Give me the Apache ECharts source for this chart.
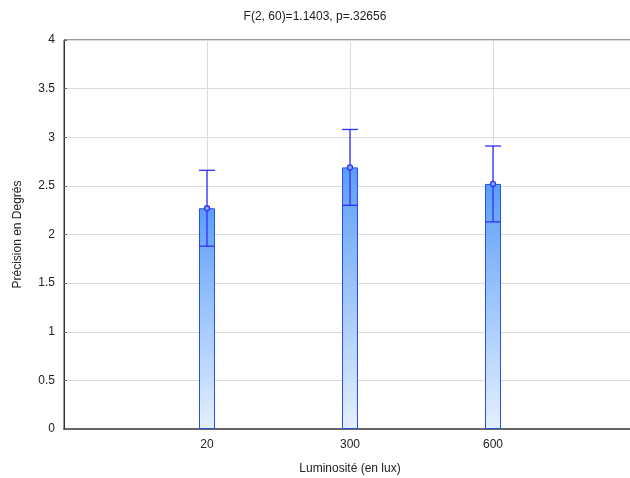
<!DOCTYPE html>
<html><head><meta charset="utf-8">
<script src="https://cdn.jsdelivr.net/npm/echarts@6/dist/echarts.min.js"></script>
<style>html,body{margin:0;padding:0;background:#fff}#c{width:630px;height:478px}</style>
</head><body><div id="c"></div>
<script>
var categories = ['', '20', '300', '600', ''];
var means = [null, 2.27, 2.69, 2.52, null];
var upper = [null, 2.66, 3.08, 2.91, null];
var lower = [null, 1.88, 2.30, 2.13, null];
var yTicks = [0, 0.5, 1, 1.5, 2, 2.5, 3, 3.5, 4];

var chart = echarts.init(document.getElementById('c'), null, {renderer: 'canvas'});
var errData = [];
for (var i = 0; i < categories.length; i++) {
  if (means[i] !== null) errData.push([i, lower[i], upper[i], means[i]]);
}
var barData = means.map(function (v) { return v; });
var font = 'Liberation Sans, Arial, sans-serif';
var option = {
  animation: false,
  title: {
    text: 'F(2, 60)=1.1403, p=.32656', left: 'center', top: 6,
    textStyle: {fontFamily: font, fontSize: 12, fontWeight: 'normal', color: '#222'}
  },
  grid: {left: 64, width: 572, top: 40, height: 389, show: true, borderColor: '#333', borderWidth: 1,
    containLabel: false, outerBoundsMode: 'none'},
  xAxis: {
    type: 'category', data: categories, boundaryGap: false,
    name: 'Luminosité (en lux)', nameLocation: 'middle', nameGap: 34,
    nameTextStyle: {fontFamily: font, fontSize: 12, color: '#222'},
    axisLine: {show: true, lineStyle: {color: '#666', width: 2}},
    axisTick: {show: true, inside: true, length: 3, lineStyle: {color: '#333'}},
    axisLabel: {fontFamily: font, fontSize: 12, color: '#222', margin: 10},
    splitLine: {show: true, lineStyle: {color: '#dcdcdc'}}
  },
  yAxis: {
    type: 'value', min: 0, max: 4, interval: 0.5,
    name: 'Précision en Degrés', nameLocation: 'middle', nameGap: 40,
    nameTextStyle: {fontFamily: font, fontSize: 12, color: '#222'},
    axisLine: {show: true, lineStyle: {color: '#333'}},
    axisTick: {show: true, inside: true, length: 3, lineStyle: {color: '#666'}},
    axisLabel: {fontFamily: font, fontSize: 12, color: '#222', margin: 9,
      formatter: function (v) { return yTicks.indexOf(v) >= 0 ? String(v) : ''; }},
    splitLine: {show: true, lineStyle: {color: '#dcdcdc'}}
  },
  series: [
    {
      type: 'bar', data: barData, barWidth: 16,
      itemStyle: {
        borderColor: '#2a4ee8', borderWidth: 1,
        color: new echarts.graphic.LinearGradient(0, 0, 0, 1, [
          {offset: 0, color: '#5c9ef6'},
          {offset: 1, color: '#e4f0ff'}
        ])
      }
    },
    {
      type: 'custom', data: errData, z: 5,
      renderItem: function (params, api) {
        var x = api.value(0);
        var lo = api.coord([x, api.value(1)]);
        var hi = api.coord([x, api.value(2)]);
        var m = api.coord([x, api.value(3)]);
        var hw = 8;
        var st = {stroke: '#3030ff', lineWidth: 1.3, fill: null};
        return {type: 'group', children: [
          {type: 'line', shape: {x1: hi[0], y1: hi[1], x2: lo[0], y2: lo[1]}, style: st},
          {type: 'line', shape: {x1: hi[0] - hw, y1: hi[1], x2: hi[0] + hw, y2: hi[1]}, style: st},
          {type: 'line', shape: {x1: lo[0] - hw, y1: lo[1], x2: lo[0] + hw, y2: lo[1]}, style: st},
          {type: 'circle', shape: {cx: m[0], cy: m[1], r: 2.5}, style: {stroke: '#3030ff', lineWidth: 1.3, fill: '#7fb2f7'}}
        ]};
      }
    }
  ]
};
chart.setOption(option);
</script></body></html>
